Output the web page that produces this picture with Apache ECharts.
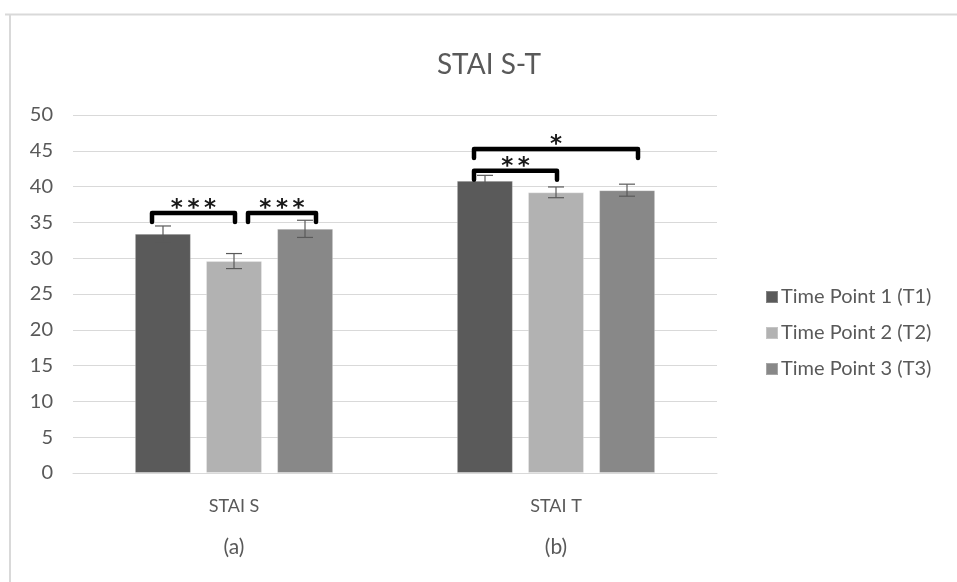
<!DOCTYPE html>
<html>
<head>
<meta charset="utf-8">
<script src="https://cdn.jsdelivr.net/npm/echarts@6/dist/echarts.min.js"></script>
<style>html,body{margin:0;padding:0;background:#fff;}#main{width:957px;height:582px;}</style>
</head>
<body>
<div id="main"></div>
<script>
// ---- data ----
const categories = ['STAI S', 'STAI T'];
const subLabels = ['(a)', '(b)'];
const seriesNames = ['Time Point 1 (T1)', 'Time Point 2 (T2)', 'Time Point 3 (T3)'];
const t1Values = [33.4, 40.8];
const t2Values = [29.6, 39.2];
const t3Values = [34.1, 39.5];
const t1Errors = [1.1, 0.77];
const t2Errors = [1.05, 0.75];
const t3Errors = [1.2, 0.84];
const yTicks = [0, 5, 10, 15, 20, 25, 30, 35, 40, 45, 50];
// brackets: [category index, from bar, to bar, bracket level (value), stars]
const brackets = [
  [0, 0, 1, 36.3, '***'],
  [0, 1, 2, 36.3, '***'],
  [1, 0, 1, 42.2, '**'],
  [1, 0, 2, 45.25, '*']
];

// ---- styles ----
const colors = ['#5a5a5a', '#b2b2b2', '#888888'];
const FONT = 'Lato';
const BAR_W = 56, BAR_STEP = 71;

const chart = echarts.init(document.getElementById('main'));
const allValues = [t1Values, t2Values, t3Values];
const allErrors = [t1Errors, t2Errors, t3Errors];

const errData = [];
allValues.forEach((vals, s) => vals.forEach((v, c) => errData.push([c, v - allErrors[s][c], v + allErrors[s][c], s])));

const barSeries = allValues.map((vals, s) => ({
  name: seriesNames[s],
  type: 'bar',
  data: vals,
  barWidth: BAR_W,
  barGap: '27%',
  itemStyle: { color: colors[s], borderColor: 'rgba(255,255,255,0.25)', borderWidth: 1 },
  z: 2
}));

const errSeries = {
  type: 'custom',
  data: errData,
  z: 5,
  silent: true,
  renderItem: function (params, api) {
    const c = api.value(0), lo = api.value(1), hi = api.value(2), s = api.value(3);
    const pLo = api.coord([c, lo]);
    const pHi = api.coord([c, hi]);
    const x = pLo[0] + (s - 1) * BAR_STEP;
    const cap = 8;
    const st = { stroke: '#5a5a5a', lineWidth: 1.2 };
    return {
      type: 'group',
      children: [
        { type: 'line', shape: { x1: x, y1: pLo[1], x2: x, y2: pHi[1] }, style: st },
        { type: 'line', shape: { x1: x - cap, y1: pLo[1], x2: x + cap, y2: pLo[1] }, style: st },
        { type: 'line', shape: { x1: x - cap, y1: pHi[1], x2: x + cap, y2: pHi[1] }, style: st }
      ]
    };
  }
};

const bracketSeries = {
  type: 'custom',
  data: brackets.map(b => [b[0], b[1], b[2], b[3]]),
  z: 6,
  silent: true,
  renderItem: function (params, api) {
    const b = brackets[params.dataIndex];
    const c = api.value(0), from = api.value(1), to = api.value(2), lvl = api.value(3);
    const p = api.coord([c, lvl]);
    const x1 = p[0] + (from - 1) * BAR_STEP - 11 + (from === 1 ? 14 + 11 : 0);
    const x2 = p[0] + (to - 1) * BAR_STEP + (to === 1 ? 1 : 11);
    const y = p[1];
    const drop = 9;
    return {
      type: 'group',
      children: [
        { type: 'polyline', shape: { points: [[x1, y + drop], [x1, y], [x2, y], [x2, y + drop]] },
          style: { stroke: '#000', lineWidth: 4.5, fill: null, lineJoin: 'round', lineCap: 'round' } },
        { type: 'text', x: (x1 + x2) / 2, y: y - 4,
          style: { text: b[4].split('').join('\u2009'), fill: '#1a1a1a', font: 'bold 23px "DejaVu Sans"', align: 'center', verticalAlign: 'middle' } }
      ]
    };
  }
};

chart.setOption({
  animation: false,
  backgroundColor: '#fff',
  title: {
    text: 'STAI S-T',
    left: 484, top: 46, textAlign: 'center',
    textStyle: { color: '#595959', fontFamily: FONT, fontSize: 28, fontWeight: 'normal' }
  },
  graphic: [
    { type: 'line', shape: { x1: 5, y1: 14.5, x2: 957, y2: 14.5 }, style: { stroke: '#d9d9d9', lineWidth: 2 } },
    { type: 'line', shape: { x1: 10, y1: 14, x2: 10, y2: 582 }, style: { stroke: '#d9d9d9', lineWidth: 2 } }
  ],
  legend: {
    data: seriesNames,
    orient: 'vertical',
    left: 760, top: 282,
    icon: 'rect',
    itemWidth: 12, itemHeight: 12,
    itemGap: 16,
    textStyle: { color: '#595959', fontFamily: FONT, fontSize: 20, padding: [0, 0, 0, -2] }
  },
  grid: { left: 73, right: 240, top: 115, bottom: 109 },
  xAxis: {
    type: 'category',
    data: categories,
    axisLine: { lineStyle: { color: '#d9d9d9' } },
    axisTick: { show: false },
    axisLabel: {
      margin: 14,
      formatter: function (v, i) { return '{a|' + v + '}\n{b|' + subLabels[i] + '}'; },
      rich: {
        a: { color: '#595959', fontFamily: FONT, fontSize: 18, lineHeight: 38 },
        b: { color: '#595959', fontFamily: FONT, fontSize: 21, lineHeight: 44 }
      }
    }
  },
  yAxis: {
    type: 'value',
    min: yTicks[0], max: yTicks[yTicks.length - 1], interval: 5,
    axisLine: { show: false },
    axisTick: { show: false },
    splitLine: { lineStyle: { color: '#d9d9d9', width: 1 } },
    axisLabel: { color: '#595959', fontFamily: FONT, fontSize: 20, margin: 20 }
  },
  series: [...barSeries, errSeries, bracketSeries]
});
</script>
</body>
</html>
